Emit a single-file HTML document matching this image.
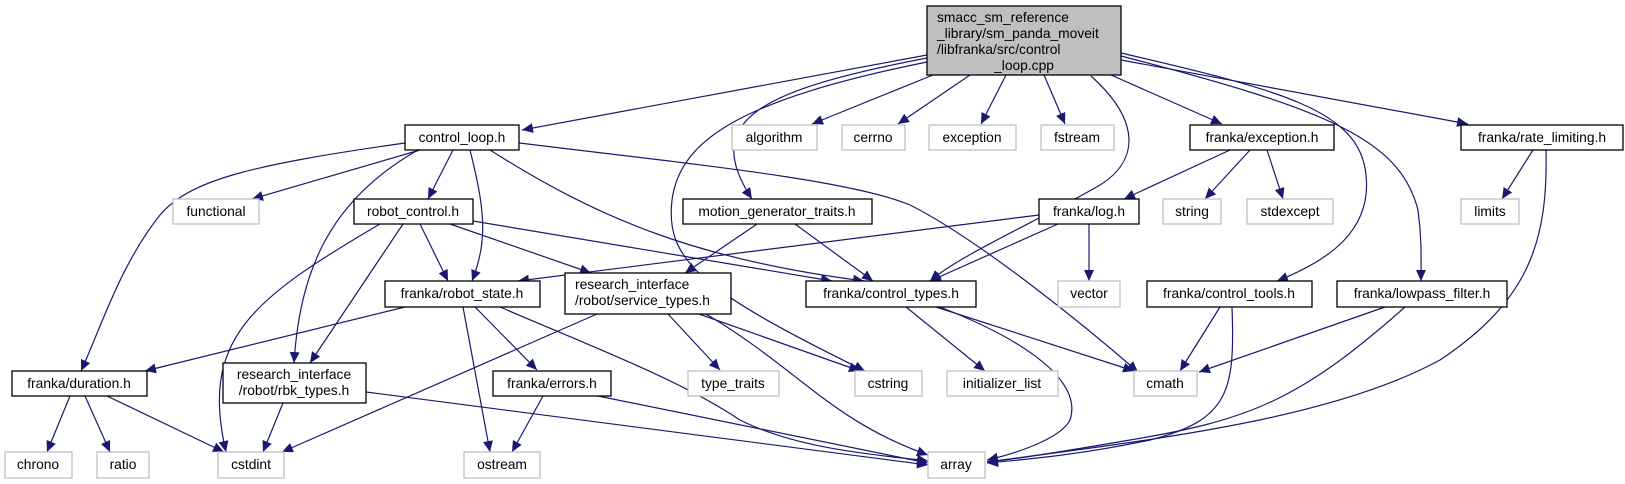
<!DOCTYPE html>
<html><head><meta charset="utf-8"><style>
html,body{margin:0;padding:0;background:#fff;}
svg{display:block;}
text{font-family:"Liberation Sans","DejaVu Sans",sans-serif;font-size:13.8px;fill:#000;}
.n{fill:#fff;stroke:#000;stroke-width:1.3;}
.g{fill:#fff;stroke:#bfbfbf;stroke-width:1.3;}
.e{fill:none;stroke:#191970;stroke-width:1.2;marker-end:url(#a);}
</style></head><body>
<svg width="1625" height="484" viewBox="0 0 1625 484" xmlns="http://www.w3.org/2000/svg">
<defs><marker id="a" markerUnits="userSpaceOnUse" markerWidth="12" markerHeight="10" refX="11" refY="5" orient="auto"><path d="M0,0 L11,5 L0,10 z" fill="#191970"/></marker></defs>

<!-- edges -->
<path class="e" d="M927,55 L522,130"/>
<path class="e" d="M933,75 L812,124"/>
<path class="e" d="M970,75 L898,124"/>
<path class="e" d="M1006,75 L981,124"/>
<path class="e" d="M1044,75 L1065,124"/>
<path class="e" d="M1111,75 L1222,124"/>
<path class="e" d="M1121,60 L1468,124"/>
<path class="e" d="M927,58 C760,90 700,120 752,199"/>
<path class="e" d="M927,62 C740,100 680,140 672,200 C665,260 700,290 865,371"/>
<path class="e" d="M1091,76 C1140,120 1140,160 1100,185 C1040,220 960,255 930,281"/>
<path class="e" d="M1121,53 C1280,90 1360,110 1366,175 C1372,230 1330,260 1277,281"/>
<path class="e" d="M1121,56 C1330,110 1400,140 1418,210 C1422,240 1421,260 1421,281"/>

<path class="e" d="M420,150 L252,199"/>
<path class="e" d="M453,150 L428,199"/>
<path class="e" d="M405,143 C250,165 190,180 160,215 C120,265 100,330 81,371"/>
<path class="e" d="M418,150 C330,200 300,270 294,363"/>
<path class="e" d="M470,150 C485,210 488,240 472,281"/>
<path class="e" d="M490,150 C600,220 700,260 864,281"/>
<path class="e" d="M519,143 C700,165 850,180 910,205 C980,240 1090,330 1138,372"/>

<path class="e" d="M420,224 L448,281"/>
<path class="e" d="M450,224 L591,273"/>
<path class="e" d="M473,221 L832,281"/>
<path class="e" d="M403,224 L310,363"/>
<path class="e" d="M380,224 C250,300 200,340 226,452"/>

<path class="e" d="M757,224 L685,273"/>
<path class="e" d="M795,224 L873,281"/>

<path class="e" d="M1230,150 L1124,199"/>
<path class="e" d="M1250,150 L1205,199"/>
<path class="e" d="M1267,150 L1283,199"/>

<path class="e" d="M1533,150 L1502,199"/>
<path class="e" d="M1546,150 C1548,240 1530,300 1440,360 C1330,420 1150,440 987,462"/>

<path class="e" d="M1039,215 L518,281"/>
<path class="e" d="M1058,224 L930,281"/>
<path class="e" d="M1089,224 L1089,281"/>

<path class="e" d="M405,307 L145,371"/>
<path class="e" d="M463,307 L490,452"/>
<path class="e" d="M475,307 L537,370"/>
<path class="e" d="M500,307 C600,350 680,380 740,420 C800,450 880,455 928,461"/>

<path class="e" d="M597,314 L282,452"/>
<path class="e" d="M668,314 L720,370"/>
<path class="e" d="M699,314 L860,371"/>
<path class="e" d="M706,314 C800,370 830,420 928,455"/>

<path class="e" d="M70,396 L47,452"/>
<path class="e" d="M85,396 L110,452"/>
<path class="e" d="M107,396 L224,452"/>

<path class="e" d="M283,403 L263,452"/>
<path class="e" d="M366,392 L928,465"/>

<path class="e" d="M543,396 L512,452"/>
<path class="e" d="M598,396 L928,463"/>

<path class="e" d="M906,307 L985,371"/>
<path class="e" d="M936,307 L1134,371"/>
<path class="e" d="M940,307 C1050,350 1080,390 1070,420 C1060,440 1010,455 987,460"/>

<path class="e" d="M1220,307 L1180,371"/>
<path class="e" d="M1232,307 C1235,390 1230,420 1150,440 C1080,455 1020,460 987,463"/>

<path class="e" d="M1385,307 L1199,372"/>
<path class="e" d="M1405,307 C1300,400 1250,420 1130,440 C1060,452 1010,460 987,462"/>

<!-- nodes -->
<rect x="927" y="6" width="194" height="69" fill="#bfbfbf" stroke="#000" stroke-width="1.3"/>
<text x="937" y="22">smacc_sm_reference</text>
<text x="937" y="38">_library/sm_panda_moveit</text>
<text x="937" y="54">/libfranka/src/control</text>
<text x="1024" y="70" text-anchor="middle">_loop.cpp</text>

<rect class="n" x="405" y="125" width="114" height="25"/><text x="462" y="142" text-anchor="middle">control_loop.h</text>
<rect class="g" x="732" y="125" width="85" height="25"/><text x="774" y="142" text-anchor="middle">algorithm</text>
<rect class="g" x="842" y="125" width="63" height="25"/><text x="873" y="142" text-anchor="middle">cerrno</text>
<rect class="g" x="929" y="125" width="87" height="25"/><text x="972" y="142" text-anchor="middle">exception</text>
<rect class="g" x="1041" y="125" width="73" height="25"/><text x="1077" y="142" text-anchor="middle">fstream</text>
<rect class="n" x="1190" y="125" width="144" height="25"/><text x="1262" y="142" text-anchor="middle">franka/exception.h</text>
<rect class="n" x="1461" y="125" width="162" height="25"/><text x="1542" y="142" text-anchor="middle">franka/rate_limiting.h</text>

<rect class="g" x="173" y="199" width="86" height="25"/><text x="216" y="216" text-anchor="middle">functional</text>
<rect class="n" x="354" y="199" width="119" height="25"/><text x="413" y="216" text-anchor="middle">robot_control.h</text>
<rect class="n" x="683" y="199" width="189" height="25"/><text x="777" y="216" text-anchor="middle">motion_generator_traits.h</text>
<rect class="n" x="1039" y="199" width="100" height="25"/><text x="1089" y="216" text-anchor="middle">franka/log.h</text>
<rect class="g" x="1163" y="199" width="58" height="25"/><text x="1192" y="216" text-anchor="middle">string</text>
<rect class="g" x="1247" y="199" width="86" height="25"/><text x="1290" y="216" text-anchor="middle">stdexcept</text>
<rect class="g" x="1461" y="199" width="58" height="25"/><text x="1490" y="216" text-anchor="middle">limits</text>

<rect class="n" x="385" y="281" width="155" height="26"/><text x="462" y="298" text-anchor="middle">franka/robot_state.h</text>
<rect class="n" x="565" y="273" width="166" height="41"/><text x="575" y="289">research_interface</text><text x="575" y="305">/robot/service_types.h</text>
<rect class="n" x="806" y="281" width="170" height="26"/><text x="891" y="298" text-anchor="middle">franka/control_types.h</text>
<rect class="g" x="1058" y="281" width="62" height="26"/><text x="1089" y="298" text-anchor="middle">vector</text>
<rect class="n" x="1147" y="281" width="165" height="26"/><text x="1229" y="298" text-anchor="middle">franka/control_tools.h</text>
<rect class="n" x="1337" y="281" width="170" height="26"/><text x="1422" y="298" text-anchor="middle">franka/lowpass_filter.h</text>

<rect class="n" x="12" y="371" width="135" height="25"/><text x="79" y="388" text-anchor="middle">franka/duration.h</text>
<rect class="n" x="223" y="363" width="143" height="40"/><text x="294" y="379" text-anchor="middle">research_interface</text><text x="294" y="395" text-anchor="middle">/robot/rbk_types.h</text>
<rect class="n" x="493" y="371" width="118" height="25"/><text x="552" y="388" text-anchor="middle">franka/errors.h</text>
<rect class="g" x="688" y="371" width="91" height="25"/><text x="733" y="388" text-anchor="middle">type_traits</text>
<rect class="g" x="855" y="371" width="67" height="25"/><text x="888" y="388" text-anchor="middle">cstring</text>
<rect class="g" x="947" y="371" width="111" height="25"/><text x="1002" y="388" text-anchor="middle">initializer_list</text>
<rect class="g" x="1134" y="371" width="63" height="25"/><text x="1165" y="388" text-anchor="middle">cmath</text>

<rect class="g" x="5" y="452" width="67" height="26"/><text x="38" y="469" text-anchor="middle">chrono</text>
<rect class="g" x="97" y="452" width="52" height="26"/><text x="123" y="469" text-anchor="middle">ratio</text>
<rect class="g" x="218" y="452" width="66" height="26"/><text x="251" y="469" text-anchor="middle">cstdint</text>
<rect class="g" x="464" y="452" width="76" height="26"/><text x="502" y="469" text-anchor="middle">ostream</text>
<rect class="g" x="928" y="452" width="57" height="26"/><text x="956" y="469" text-anchor="middle">array</text>
</svg>
</body></html>
